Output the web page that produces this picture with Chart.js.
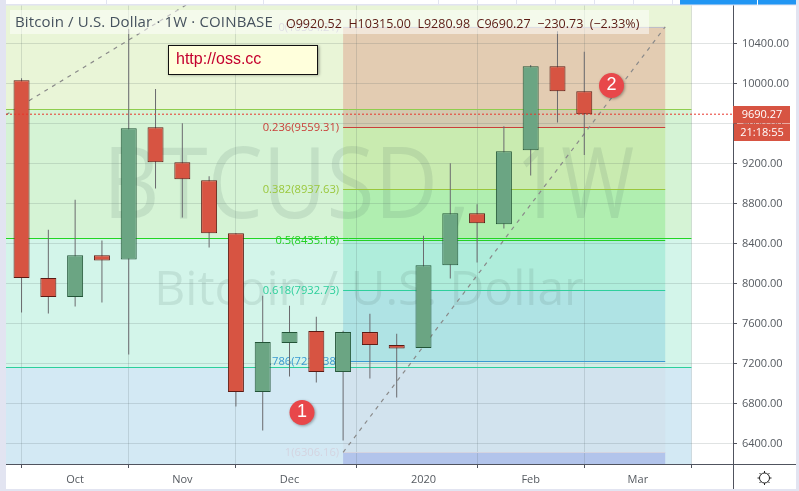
<!DOCTYPE html>
<html>
<head>
<meta charset="utf-8">
<title>BTCUSD 1W</title>
<script src="https://cdn.jsdelivr.net/npm/chart.js@4/dist/chart.umd.js"></script>
<style>
  html, body { margin: 0; padding: 0; background: #fff; }
  canvas { display: block; }
</style>
</head>
<body>
<canvas id="btcChart" width="799" height="491"></canvas>
<script>
// weekly candles
const opens  = [10030, 8050, 7860, 8280, 8236, 9560, 9210, 9030, 8500, 6910, 7400, 7520, 7110, 7510, 7380, 7350, 8180, 8700, 8590, 9330, 10170, 9920.52];
const highs  = [10050, 8533, 8833, 8426, 10543, 9943, 9600, 9070, 8500, 7873, 7773, 7663, 7523, 7693, 7493, 8473, 9200, 8790, 9570, 10183, 10520, 10315];
const lows   = [7706, 7696, 7766, 7806, 7286, 8946, 8656, 8356, 6766, 6526, 7066, 7006, 6426, 7046, 6856, 7350, 8046, 8206, 8546, 9076, 9606, 9280.98];
const closes = [8050, 7860, 8280, 8226, 9550, 9210, 9040, 8500, 6910, 7410, 7510, 7110, 7510, 7380, 7346, 8180, 8700, 8600, 9320, 10170, 9920, 9690.27];

const dateTickPositions = [2, 6, 10, 15, 19, 23];
const dateTickLabels = ['Oct', 'Nov', 'Dec', '2020', 'Feb', 'Mar'];
const priceTicks = [6400, 6800, 7200, 7600, 8000, 8400, 8800, 9200, 9600, 10000, 10400];

const lastPrice = 9690.27;
const countdown = '21:18:55';

// inner fib retracement
const fibRatios = ['0', '0.236', '0.382', '0.5', '0.618', '0.786', '1'];
const fibPrices = [10564.21, 9559.31, 8937.63, 8435.18, 7932.73, 7217.38, 6306.16];
const fibStart = 12;
const fibEnd = 24.02;

// big fib behind it, only the levels are visible
const outerLevels = [10783, 9742, 8452, 7160, 6190];
const outerEnd = 25;

// dashed trend lines
const trendA = [{ x: -0.58, y: 9685 }, { x: 6.14, y: 10783 }];
const trendB = [{ x: fibStart, y: fibPrices[6] }, { x: fibEnd, y: fibPrices[0] }];

const xMin = -0.58;
const xMax = 26.55;
const yMin = 6190;
const yMax = 10783;

const RED = '#d75442';
const GREEN = '#6ba583';
const RED_EDGE = '#5b1a13';
const GREEN_EDGE = '#225437';
const AXIS = '#50535e';
const LABEL = '#555a60';
const GRID = 'rgba(70,90,90,0.17)';

const outerFills = ['#e9f5d7', '#d5f3d5', '#d3f5ea', '#d3e9f4'];
const outerLines = ['#8fce4e', '#22d622', '#2ccf9c'];
const innerFills = [
  'rgba(205,40,30,0.2)', 'rgba(153,203,30,0.2)', 'rgba(30,220,30,0.2)',
  'rgba(35,205,160,0.2)', 'rgba(35,155,205,0.2)', 'rgba(210,205,215,0.2)'
];
const fibColors = ['#bdbdc8', '#c9403a', '#9ac73c', '#25d025', '#2fcf9c', '#3a9ad2', '#d4d4e0'];

function drawBadge(ctx, cx, cy, text) {
  ctx.save();
  ctx.shadowColor = 'rgba(0,0,0,0.35)';
  ctx.shadowBlur = 3;
  ctx.shadowOffsetX = 1;
  ctx.shadowOffsetY = 1;
  ctx.fillStyle = '#e8474a';
  ctx.beginPath();
  ctx.arc(cx, cy, 12.5, 0, Math.PI * 2);
  ctx.fill();
  ctx.restore();
  ctx.fillStyle = '#fff';
  ctx.font = '18px "Liberation Sans"';
  ctx.textAlign = 'center';
  ctx.textBaseline = 'middle';
  ctx.fillText(text, cx, cy);
}

const fibPlugin = {
  id: 'fibPlugin',
  beforeDraw(chart) {
    const { ctx, chartArea, scales } = chart;
    const x = scales.x;
    const y = scales.y;
    ctx.save();
    ctx.fillStyle = '#fff';
    ctx.fillRect(0, 0, 799, 491);

    const right = x.getPixelForValue(outerEnd);
    outerFills.forEach((c, i) => {
      const top = y.getPixelForValue(outerLevels[i]);
      const bottom = y.getPixelForValue(outerLevels[i + 1]);
      ctx.fillStyle = c;
      ctx.fillRect(chartArea.left, top, right - chartArea.left, bottom - top);
    });

    const l = x.getPixelForValue(fibStart);
    const r = x.getPixelForValue(fibEnd);
    innerFills.forEach((c, i) => {
      const top = y.getPixelForValue(fibPrices[i]);
      const bottom = y.getPixelForValue(fibPrices[i + 1]);
      ctx.fillStyle = c;
      ctx.fillRect(l, top, r - l, bottom - top);
    });
    // below the 1 level
    ctx.fillStyle = 'rgba(50,50,200,0.2)';
    const oneY = y.getPixelForValue(fibPrices[6]);
    ctx.fillRect(l, oneY, r - l, chartArea.bottom - oneY);
    ctx.restore();
  },
  beforeDatasetsDraw(chart) {
    const { ctx, chartArea, scales } = chart;
    const x = scales.x;
    const y = scales.y;
    ctx.save();

    // watermark, the letters are narrower than Open Sans so squeeze them
    ctx.fillStyle = 'rgba(70,100,90,0.13)';
    ctx.textAlign = 'left';
    ctx.textBaseline = 'middle';
    ctx.font = '98px "Open Sans"';
    ctx.fillText('BTCUSD', 103, 190, 335);
    ctx.fillText(',', 446, 190);
    ctx.fillText('1W', 516, 190, 118);
    ctx.textAlign = 'center';
    ctx.font = '48px "Open Sans"';
    ctx.fillText('Bitcoin / U.S. Dollar', 369, 291);

    const right = x.getPixelForValue(outerEnd);
    ctx.lineWidth = 1;
    outerLines.forEach((c, i) => {
      const py = Math.round(y.getPixelForValue(outerLevels[i + 1])) + 0.5;
      ctx.strokeStyle = c;
      ctx.beginPath();
      ctx.moveTo(chartArea.left, py);
      ctx.lineTo(right, py);
      ctx.stroke();
    });

    const l = x.getPixelForValue(fibStart);
    const r = x.getPixelForValue(fibEnd);
    ctx.font = '500 11.2px "Open Sans"';
    ctx.textAlign = 'right';
    fibPrices.forEach((p, i) => {
      const py = Math.round(y.getPixelForValue(p)) + 0.5;
      ctx.strokeStyle = fibColors[i];
      ctx.beginPath();
      ctx.moveTo(l, py);
      ctx.lineTo(r, py);
      ctx.stroke();
      ctx.fillStyle = fibColors[i];
      ctx.fillText(fibRatios[i] + '(' + p.toFixed(2) + ')', l - 4, py);
    });
    ctx.restore();
  },
  afterDraw(chart) {
    const { ctx, chartArea, scales } = chart;
    const y = scales.y;
    ctx.save();

    // header strip
    ctx.fillStyle = 'rgba(255,255,255,0.5)';
    ctx.fillRect(10, 10, 639, 24);
    ctx.textBaseline = 'middle';
    ctx.textAlign = 'left';
    ctx.fillStyle = '#46525e';
    ctx.font = '15px "Open Sans"';
    ctx.letterSpacing = '0.15px';
    ctx.fillText('Bitcoin / U.S. Dollar · 1W · COINBASE', 15, 23);
    ctx.fillStyle = RED_EDGE;
    ctx.font = '12.5px "Open Sans"';
    ctx.letterSpacing = '0px';
    ctx.fillText('O9920.52  H10315.00  L9280.98  C9690.27  \u2212230.73  (\u22122.33%)', 286, 24);

    // note box
    ctx.save();
    ctx.shadowColor = 'rgba(0,0,0,0.4)';
    ctx.shadowBlur = 3;
    ctx.shadowOffsetX = 1;
    ctx.shadowOffsetY = 1;
    ctx.fillStyle = '#ffffdc';
    ctx.fillRect(168, 45, 150, 29);
    ctx.restore();
    ctx.strokeStyle = '#111';
    ctx.strokeRect(168.5, 45.5, 149, 29);
    ctx.fillStyle = '#c4002e';
    ctx.font = '16px "Liberation Sans"';
    ctx.fillText('http://oss.cc', 176, 60);

    drawBadge(ctx, 302, 412.5, '1');
    drawBadge(ctx, 611.5, 85.5, '2');

    // price and countdown tags
    const tagY = Math.round(y.getPixelForValue(lastPrice));
    ctx.fillStyle = RED;
    ctx.fillRect(733, tagY - 8, 57, 17.5);
    ctx.fillRect(734, tagY + 10, 56, 17);
    ctx.fillStyle = '#fff';
    ctx.font = '11px "Open Sans"';
    ctx.textAlign = 'center';
    ctx.fillText(lastPrice.toFixed(2), 762, tagY + 0.5);
    ctx.fillText(countdown, 762, tagY + 18.5);

    // axis line carries on to the window edge
    ctx.strokeStyle = AXIS;
    ctx.lineWidth = 1;
    ctx.beginPath();
    ctx.moveTo(chartArea.right, chartArea.bottom + 0.5);
    ctx.lineTo(796, chartArea.bottom + 0.5);
    ctx.moveTo(chartArea.right + 0.5, chartArea.bottom);
    ctx.lineTo(chartArea.right + 0.5, 489);
    ctx.stroke();

    // settings gear
    ctx.strokeStyle = '#222';
    ctx.beginPath();
    ctx.arc(764.5, 478, 5, 0, Math.PI * 2);
    for (let a = 0; a < 8; a++) {
      const ang = a * Math.PI / 4;
      ctx.moveTo(764.5 + Math.cos(ang) * 5, 478 + Math.sin(ang) * 5);
      ctx.lineTo(764.5 + Math.cos(ang) * 7, 478 + Math.sin(ang) * 7);
    }
    ctx.stroke();

    // window frame
    ctx.fillStyle = '#e2e4f1';
    ctx.fillRect(0, 0, 6, 491);
    ctx.fillRect(796, 0, 3, 491);
    ctx.fillRect(0, 489, 799, 2);
    ctx.fillRect(0, 4, 799, 1.5);
    ctx.fillStyle = '#fff';
    ctx.fillRect(6, 0, 790, 4);
    ctx.fillStyle = '#e2e4f1';
    [106, 263, 438, 477, 516, 555, 594, 633, 672].forEach(px => ctx.fillRect(px, 0, 1, 4));
    ctx.fillStyle = '#2196f3';
    ctx.fillRect(680, 0, 116, 4.5);
    ctx.fillStyle = '#fff';
    ctx.fillRect(757, 0, 1, 5);
    ctx.restore();
  }
};

new Chart(document.getElementById('btcChart'), {
  type: 'bar',
  data: {
    datasets: [
      {
        type: 'line',
        data: [{ x: xMin, y: lastPrice }, { x: xMax, y: lastPrice }],
        borderColor: '#e8352b',
        borderWidth: 1,
        borderDash: [2, 2],
        pointRadius: 0,
        order: 0
      },
      {
        data: closes.map((c, i) => ({ x: i, y: [opens[i], c] })),
        backgroundColor: closes.map((c, i) => (c >= opens[i] ? GREEN : RED)),
        borderColor: closes.map((c, i) => (c >= opens[i] ? GREEN_EDGE : RED_EDGE)),
        borderWidth: 1,
        borderSkipped: false,
        inflateAmount: 0,
        barThickness: 16,
        grouped: false,
        order: 1
      },
      {
        data: highs.map((h, i) => ({ x: i, y: [lows[i], h] })),
        backgroundColor: '#6a6a6e',
        borderWidth: 0,
        inflateAmount: 0,
        barThickness: 1,
        grouped: false,
        order: 2
      },
      {
        type: 'line',
        data: trendA,
        borderColor: '#8a8a8a',
        borderWidth: 1.2,
        borderDash: [4, 5],
        pointRadius: 0,
        order: 3
      },
      {
        type: 'line',
        data: trendB,
        borderColor: '#8a8a8a',
        borderWidth: 1.2,
        borderDash: [4, 5],
        pointRadius: 0,
        order: 3
      }
    ]
  },
  options: {
    responsive: false,
    animation: false,
    events: [],
    layout: { padding: { left: 6, top: 5, right: 0, bottom: 0 } },
    plugins: { legend: { display: false }, tooltip: { enabled: false } },
    scales: {
      x: {
        type: 'linear',
        offset: false,
        min: xMin,
        max: xMax,
        afterBuildTicks: scale => {
          scale.ticks = dateTickPositions.map(v => ({ value: v }));
        },
        afterFit: scale => {
          scale.height = 27;
          scale.paddingLeft = 0;
          scale.paddingRight = 0;
        },
        grid: { color: GRID, tickColor: AXIS, tickLength: 4 },
        border: { color: AXIS },
        ticks: {
          autoSkip: false,
          maxRotation: 0,
          color: LABEL,
          padding: 5,
          font: { family: '"Open Sans"', size: 11 },
          callback: value => dateTickLabels[dateTickPositions.indexOf(value)]
        }
      },
      y: {
        position: 'right',
        min: yMin,
        max: yMax,
        afterBuildTicks: scale => {
          scale.ticks = priceTicks.map(v => ({ value: v }));
        },
        afterFit: scale => {
          scale.width = 66;
          scale.paddingTop = 0;
          scale.paddingBottom = 0;
        },
        grid: { color: GRID, tickColor: AXIS, tickLength: 4 },
        border: { color: AXIS },
        ticks: {
          color: LABEL,
          padding: 5,
          labelOffset: 1,
          font: { family: '"Open Sans"', size: 11 },
          callback: value => value.toFixed(2)
        }
      }
    }
  },
  plugins: [fibPlugin]
});
</script>
</body>
</html>
